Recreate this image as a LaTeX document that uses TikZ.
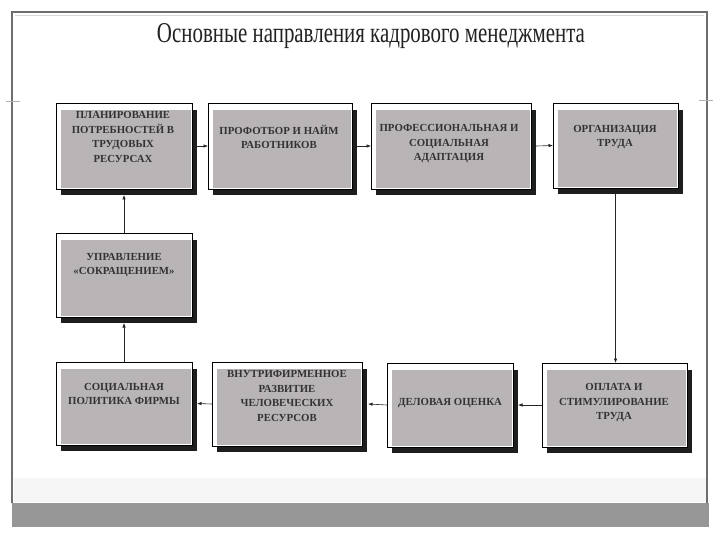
\documentclass[tikz,border=0pt]{standalone}
\usepackage{fontspec}
\setmainfont{Liberation Serif}
\usetikzlibrary{arrows.meta}
\definecolor{framec}{HTML}{6E6E6E}
\definecolor{barc}{HTML}{979797}
\definecolor{boxgray}{HTML}{B9B5B6}
\definecolor{shadowc}{HTML}{1E1E1E}
\definecolor{txtc}{HTML}{333333}
\definecolor{titlec}{HTML}{222222}
\definecolor{paleb}{HTML}{F6F6F6}
\tikzset{
  wbox/.style={draw=black, line width=0.8pt, fill=white, inner sep=0pt, outer sep=0pt},
  btxt/.style={align=center, text=txtc, font=\fontsize{10.8}{14.5}\selectfont\bfseries, inner sep=0pt},
  arr/.style={draw=black!85, line width=0.6pt, -{Latex[length=4.5pt,width=3.5pt]}},
  ttl/.style={text=titlec, inner sep=0pt, anchor=base}
}
\newcommand\flowbox[7]{%
  \fill[shadowc] (#2+5,#3+7) rectangle (#4+5,#5+6);
  \node[wbox, minimum width={#4-#2}, minimum height={#5-#3}] (#1) at ({(#2+#4)/2},{(#3+#5)/2}) {};
  \fill[boxgray] (#2+5,#3+7) rectangle (#4-0.6,#5-0.6);
  \node[btxt] (#1t) at #6 {#7};
}
\begin{document}
\begin{tikzpicture}[x=1pt,y=-1pt]
\useasboundingbox (0,0) rectangle (720,540);
\fill[white] (0,0) rectangle (720,540);
% pale band above bottom bar
\fill[paleb] (14,478) rectangle (706,502);
% bottom bar
\fill[barc] (12,503) rectangle (709,527);
% frame
\draw[framec, line width=1.2pt] (12,503) -- (12,12) -- (707,12) -- (707,503);
\draw[black!15, line width=0.5pt] (15,15) -- (704,15);
% ticks
\draw[black!30, line width=0.6pt] (6,101) -- (20,101);
\draw[black!30, line width=0.6pt] (699,100) -- (713,100);
% title
\node[ttl] (title) at (371,43) {\resizebox{428pt}{19pt}{Основные направления кадрового менеджмента}};
% boxes
\flowbox{b1}{56}{103}{192}{189}{(123,137)}{ПЛАНИРОВАНИЕ\\ПОТРЕБНОСТЕЙ В\\ТРУДОВЫХ\\РЕСУРСАХ}
\flowbox{b2}{208}{103}{352}{189}{(279,137)}{ПРОФОТБОР И НАЙМ\\РАБОТНИКОВ}
\flowbox{b3}{371}{103}{531}{189}{(449,144)}{ПРОФЕССИОНАЛЬНАЯ И\\СОЦИАЛЬНАЯ\\АДАПТАЦИЯ}
\flowbox{b4}{553}{103}{678}{188}{(615,137)}{ОРГАНИЗАЦИЯ\\ТРУДА}
\flowbox{b5}{56}{233}{192}{317}{(124,265)}{УПРАВЛЕНИЕ\\«СОКРАЩЕНИЕМ»}
\flowbox{b6}{56}{362}{192}{445}{(124,394)}{СОЦИАЛЬНАЯ\\ПОЛИТИКА ФИРМЫ}
\flowbox{b7}{212}{362}{362}{446}{(287,396)}{ВНУТРИФИРМЕННОЕ\\РАЗВИТИЕ\\ЧЕЛОВЕЧЕСКИХ\\РЕСУРСОВ}
\flowbox{b8}{387}{363}{513}{447}{(450,403)}{ДЕЛОВАЯ ОЦЕНКА}
\flowbox{b9}{542}{363}{687}{447}{(614,403)}{ОПЛАТА И\\СТИМУЛИРОВАНИЕ\\ТРУДА}
% connectors
\draw[arr] ([xshift=4pt]b1.east) -- (b2.west);
\draw[arr] ([xshift=5pt]b2.east) -- (b3.west);
\draw[arr] ([xshift=5pt]b3.east) -- (b4.west);
\draw[arr] ([yshift=-6pt]b4.south) -- (b4.south |- b9.north);
\draw[arr] (b9.west) -- ([xshift=5pt]b8.east);
\draw[arr] (b8.west) -- ([xshift=6pt]b7.east);
\draw[arr] (b7.west) -- ([xshift=5pt]b6.east);
\draw[arr] (b6.north) -- ([yshift=-6pt]b5.south);
\draw[arr] (b5.north) -- ([yshift=-6pt]b1.south);
\end{tikzpicture}
\end{document}
